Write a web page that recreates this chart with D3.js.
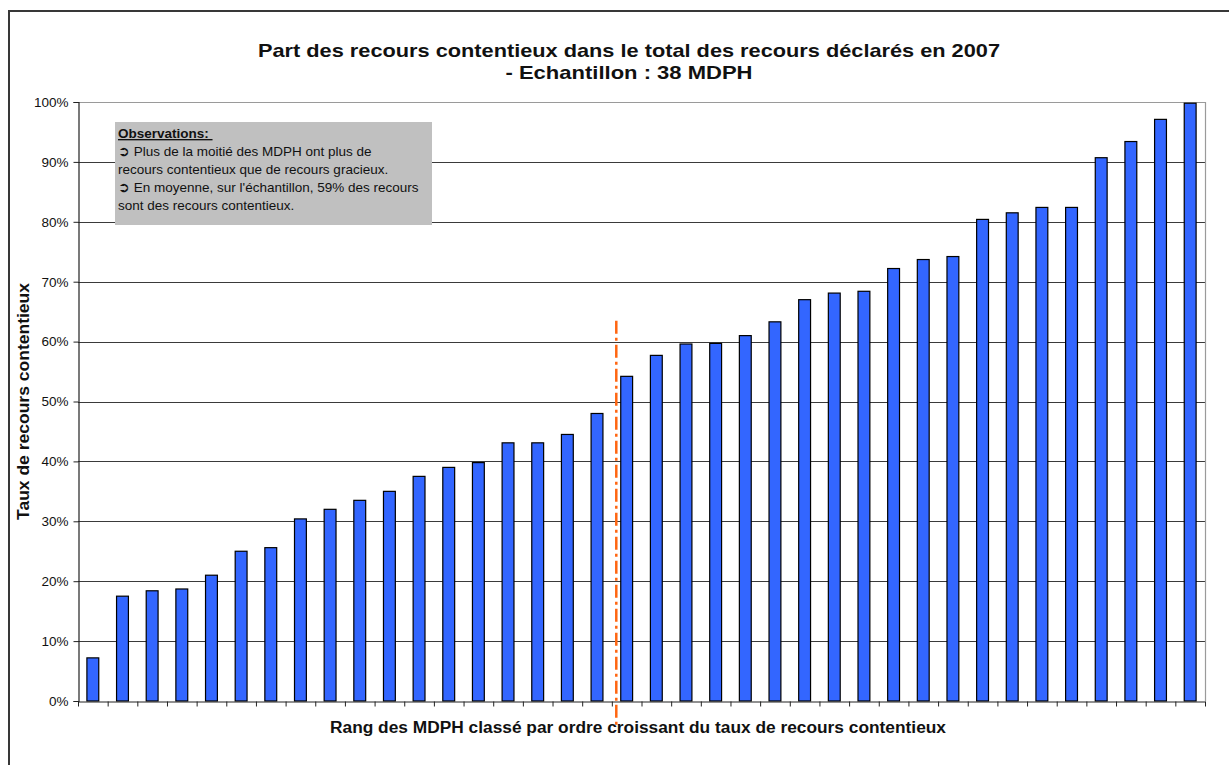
<!DOCTYPE html>
<html>
<head>
<meta charset="utf-8">
<script src="https://cdn.jsdelivr.net/npm/d3@7"></script>
<style>
  html, body { margin: 0; padding: 0; background: #fff; }
  svg { display: block; font-family: "Liberation Sans", Arial, sans-serif; }
</style>
</head>
<body>
<svg id="chart" width="1229" height="765"></svg>
<script>
// ---- Data ----
const titleLines = ["Part des recours contentieux dans le total des recours déclarés en 2007", "- Echantillon : 38 MDPH"];
const yAxisTitle = "Taux de recours contentieux";
const xAxisTitle = "Rang des MDPH classé par ordre croissant du taux de recours contentieux";
const ranks = d3.range(1, 39);
const values = [7.2, 17.5, 18.4, 18.7, 21.0, 25.0, 25.6, 30.4, 32.0, 33.5,
                35.0, 37.5, 39.0, 39.8, 43.1, 43.1, 44.5, 48.0, 54.2, 57.7,
                59.6, 59.7, 61.0, 63.3, 67.0, 68.1, 68.4, 72.2, 73.7, 74.2,
                80.4, 81.5, 82.4, 82.4, 90.7, 93.4, 97.1, 99.8];
const yTicks = [0, 10, 20, 30, 40, 50, 60, 70, 80, 90, 100];
const yTickLabels = yTicks.map(v => v + "%");
const refLineRank = 18.15;          // position of the orange marker line (in rank units)
const refLineExtent = [63.5, -4];   // vertical extent of marker line (in % units)
const noteTitle = "Observations:";
const noteLines = [
  "➲ Plus de la moitié des MDPH ont plus de",
  "recours contentieux que de recours gracieux.",
  "➲ En moyenne, sur l'échantillon, 59% des recours",
  "sont des recours contentieux."
];

// ---- Layout ----
const svg = d3.select("#chart");
const plot = { left: 78, right: 1205, top: 102, bottom: 701 };
const FONT = "'Liberation Sans', Arial, sans-serif";

// outer frame
svg.append("rect").attr("x", 9).attr("y", 11).attr("width", 1300).attr("height", 900)
  .attr("fill", "none").attr("stroke", "#383838").attr("stroke-width", 2);

const x = d3.scaleBand().domain(ranks).range([plot.left, plot.right])
  .paddingInner(0.6).paddingOuter(0.3);
const xr = d3.scaleLinear().domain([0, ranks.length]).range([plot.left, plot.right]);
const y = d3.scaleLinear().domain([0, 100]).range([plot.bottom, plot.top]);

// gridlines
svg.append("g").selectAll("line").data(yTicks.filter(v => v > 0 && v < 100)).join("line")
  .attr("x1", plot.left).attr("x2", plot.right)
  .attr("y1", d => Math.round(y(d)) + 0.5).attr("y2", d => Math.round(y(d)) + 0.5)
  .attr("stroke", "#3a3a3a").attr("stroke-width", 1);

// plot border (top/right gray)
svg.append("path")
  .attr("d", `M${plot.left},${plot.top + 0.5}H${plot.right + 0.5}V${plot.bottom}`)
  .attr("fill", "none").attr("stroke", "#9a9a9a").attr("stroke-width", 1.2);

// bars
svg.append("g").selectAll("rect").data(values).join("rect")
  .attr("x", (d, i) => x(ranks[i]))
  .attr("width", x.bandwidth())
  .attr("y", d => y(d))
  .attr("height", d => y(0) - y(d))
  .attr("fill", "#3366FF").attr("stroke", "#000").attr("stroke-width", 1.2);

// y axis
const yAxis = d3.axisLeft(y).tickValues(yTicks).tickFormat((d, i) => yTickLabels[i])
  .tickSize(5).tickPadding(5);
const gy = svg.append("g").attr("transform", `translate(${plot.left + 0.5},0)`).call(yAxis);
gy.select(".domain").attr("stroke", "#222").attr("stroke-width", 1.2);
gy.selectAll(".tick line").attr("stroke", "#222");
gy.selectAll("text").attr("font-size", 13.5).attr("fill", "#111").attr("font-family", FONT);

// x axis (ticks at category boundaries)
const xAxis = d3.axisBottom(xr).tickValues(d3.range(0, ranks.length + 1)).tickFormat("")
  .tickSize(5).tickSizeOuter(0);
const gx = svg.append("g").attr("transform", `translate(0,${plot.bottom + 0.5})`).call(xAxis);
gx.select(".domain").attr("stroke", "#222").attr("stroke-width", 1.2);
gx.selectAll(".tick line").attr("stroke", "#222");

// orange marker line
svg.append("line")
  .attr("x1", xr(refLineRank)).attr("x2", xr(refLineRank))
  .attr("y1", y(refLineExtent[0])).attr("y2", y(refLineExtent[1]))
  .attr("stroke", "#FF6611").attr("stroke-width", 2.5)
  .attr("stroke-dasharray", "13,4,3,4");

// title
const titleWidths = [742, 247];
svg.append("g").selectAll("text").data(titleLines).join("text")
  .attr("x", 629).attr("y", (d, i) => 57 + i * 22)
  .attr("text-anchor", "middle").attr("font-weight", "bold").attr("font-size", 19)
  .attr("textLength", (d, i) => titleWidths[i]).attr("lengthAdjust", "spacingAndGlyphs")
  .attr("fill", "#111").text(d => d);

// axis titles
svg.append("text").attr("x", 638).attr("y", 733).attr("text-anchor", "middle")
  .attr("font-weight", "bold").attr("font-size", 16)
  .attr("textLength", 616).attr("lengthAdjust", "spacingAndGlyphs")
  .attr("fill", "#111").text(xAxisTitle);
svg.append("text").attr("transform", `translate(29,${(plot.top + plot.bottom) / 2}) rotate(-90)`)
  .attr("text-anchor", "middle").attr("font-weight", "bold").attr("font-size", 16.5)
  .attr("textLength", 237).attr("lengthAdjust", "spacingAndGlyphs")
  .attr("fill", "#111").text(yAxisTitle);

// note box
const note = svg.append("g");
note.append("rect").attr("x", 115).attr("y", 122).attr("width", 317).attr("height", 103)
  .attr("fill", "#C0C0C0");
note.append("text").attr("x", 118).attr("y", 138).attr("font-size", 13.5).attr("font-weight", "bold")
  .attr("text-decoration", "underline").attr("fill", "#111").text(noteTitle + "\u00a0");
note.selectAll("text.l").data(noteLines).join("text").attr("class", "l")
  .attr("x", 118).attr("y", (d, i) => 156 + i * 18)
  .attr("font-size", 13.5).attr("fill", "#111").text(d => d);
</script>
</body>
</html>
